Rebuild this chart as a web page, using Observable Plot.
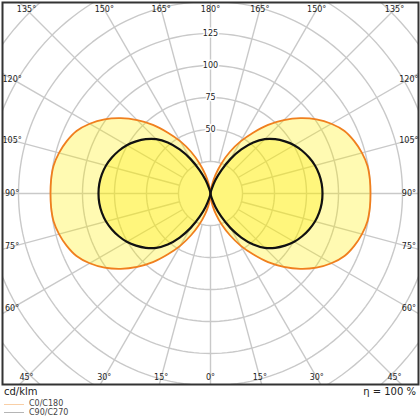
<!DOCTYPE html>
<html>
<head>
<meta charset="utf-8">
<script src="https://cdn.jsdelivr.net/npm/d3@7"></script>
<script src="https://cdn.jsdelivr.net/npm/@observablehq/plot@0.6"></script>
<style>
  html, body { margin: 0; padding: 0; background: #fff; }
  body { width: 420px; height: 420px; overflow: hidden; font-family: "DejaVu Sans", sans-serif; }
  #chart svg { display: block; }
  .row { display: flex; justify-content: space-between; font-size: 10px; line-height: 11px; color: #222; padding: 0 4px; }
  .legend { margin-top: 3px; font-size: 8px; line-height: 8.5px; color: #444; }
  .legend div { display: flex; align-items: center; }
  .legend .sw { display: inline-block; width: 20px; height: 0; border-top: 1px solid; margin: 0 5px 0 4px; }
</style>
</head>
<body>
<div id="chart"></div>
<div class="row"><span id="unit"></span><span id="eta"></span></div>
<div class="legend" id="legend"></div>
<script>
// Polar angles (gamma, degrees from nadir) and luminous intensities (cd/klm)
const gamma   = [0,5,10,15,20,25,30,35,40,45,50,55,60,65,70,75,80,85,90,95,100,105,110,115,120,125,130,135,140,145,150,155,160,165,170,175,180];
const c0c180  = [0,4,10,17,26,36,47,58,70,81,91.5,101,109,115.5,119.5,122.5,124.5,125,125,125,124.5,122.5,119.5,115.5,109,101,91.5,81,70,58,47,36,25,15,7,2,0];
const c90c270 = [0,0,1,4,11,20,31,42,52,60,66,71,75.5,79,82,84.5,86.2,87.2,87.5,87.2,86.2,84.5,82,79,75.5,71,66,60,52,42,31,20,11,4,1,0,0];

const seriesNames = ["C0/C180", "C90/C270"];
const seriesColors = ["#f07f1e", "#111111"];
const ringValues = [25,50,75,100,125,150,175,200,225,250];
const ringLabels = [50,75,100,125];
const angleTicks = [0,15,30,45,60,75,90,105,120,135,150,165,180];
const unitLabel = "cd/klm";
const etaLabel = "η = 100 %";

const rad = d => d * Math.PI / 180;

// lobe points: side -1 = left half-plane, +1 = right half-plane
function lobe(values, side) {
  return gamma.map((g, i) => ({x: side * values[i] * Math.sin(rad(g)), y: -values[i] * Math.cos(rad(g))}));
}
const lobes = [
  {pts: lobe(c0c180, -1), k: 0}, {pts: lobe(c0c180, 1), k: 0},
  {pts: lobe(c90c270, -1), k: 1}, {pts: lobe(c90c270, 1), k: 1}
];

const ringPts = ringValues.flatMap(r => d3.range(0, 361, 2).map(a => ({r, x: r * Math.sin(rad(a)), y: r * Math.cos(rad(a))})));
const spokes = d3.range(0, 360, 15).map(a => ({
  x1: 25 * Math.sin(rad(a)), y1: 25 * Math.cos(rad(a)),
  x2: 300 * Math.sin(rad(a)), y2: 300 * Math.cos(rad(a))
}));

const HX = 155, HY = 143.75;
const angleLabelData = angleTicks.flatMap(g => (g === 0 || g === 180) ? [{g, s: 1}] : [{g, s: -1}, {g, s: 1}]).map(({g, s}) => {
  const dx = s * Math.sin(rad(g)), dy = -Math.cos(rad(g));
  const t = Math.min(Math.abs(dx) > 1e-9 ? HX / Math.abs(dx) : Infinity, Math.abs(dy) > 1e-9 ? HY / Math.abs(dy) : Infinity);
  return {x: dx * t, y: dy * t, text: g + "°"};
});

const marks = [
  Plot.line(ringPts, {x: "x", y: "y", z: "r", stroke: "#c9c9c9", strokeWidth: 1.4, clip: true}),
  Plot.link(spokes, {x1: "x1", y1: "y1", x2: "x2", y2: "y2", stroke: "#c9c9c9", strokeWidth: 1.4, clip: true}),
  ...lobes.map(l => Plot.line(l.pts, {x: "x", y: "y", curve: "catmull-rom", stroke: "none", fill: "#ffee00", fillOpacity: 0.3})),
  ...lobes.map(l => Plot.line(l.pts, {x: "x", y: "y", curve: "catmull-rom", stroke: seriesColors[l.k], strokeWidth: l.k === 0 ? 1.8 : 2.2})),
  Plot.text(ringLabels, {x: 0, y: d => d, text: d => String(d), fontSize: 8, fill: "#222", stroke: "white", strokeWidth: 3}),
  Plot.text(angleLabelData, {x: "x", y: "y", text: "text", fontSize: 8, fill: "#222"}),
  Plot.frame({stroke: "#333", strokeWidth: 2})
];

const chart = Plot.plot({
  width: 420, height: 386,
  marginTop: 2, marginBottom: 2, marginLeft: 2, marginRight: 2,
  x: {domain: [-162.5, 162.5], axis: null},
  y: {domain: [-149.2, 149.2], axis: null},
  style: {fontFamily: "DejaVu Sans, sans-serif", background: "white"},
  marks
});
document.getElementById("chart").appendChild(chart);

document.getElementById("unit").textContent = unitLabel;
document.getElementById("eta").textContent = etaLabel;
const legendColors = ["#f9cfa6", "#b5b5b5"];
const leg = document.getElementById("legend");
seriesNames.forEach((name, i) => {
  const row = document.createElement("div");
  const sw = document.createElement("span");
  sw.className = "sw"; sw.style.borderTopColor = legendColors[i];
  const t = document.createElement("span"); t.textContent = name;
  row.appendChild(sw); row.appendChild(t); leg.appendChild(row);
});
</script>
</body>
</html>
